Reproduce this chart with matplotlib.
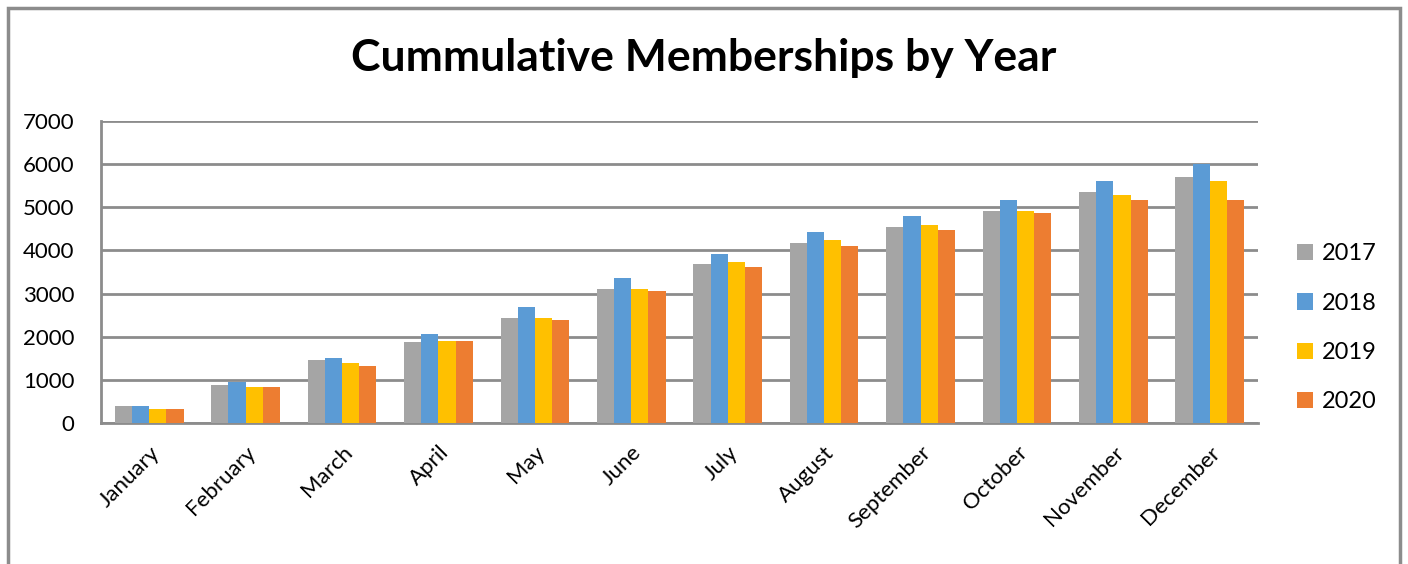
import matplotlib
matplotlib.use("Agg")
import matplotlib.pyplot as plt
import matplotlib.transforms as mtransforms
import numpy as np
from matplotlib.patches import Rectangle

months = ["January", "February", "March", "April", "May", "June", "July",
          "August", "September", "October", "November", "December"]
years = ["2017", "2018", "2019", "2020"]
v2017 = [400, 890, 1450, 1880, 2440, 3110, 3680, 4170, 4540, 4920, 5350, 5710]
v2018 = [400, 950, 1510, 2070, 2680, 3370, 3920, 4420, 4790, 5170, 5600, 6000]
v2019 = [330, 830, 1390, 1890, 2440, 3110, 3740, 4240, 4600, 4920, 5280, 5600]
v2020 = [330, 830, 1330, 1890, 2380, 3060, 3620, 4110, 4480, 4860, 5170, 5170]
colors = ["#a5a5a5", "#5b9bd5", "#ffc000", "#ed7d31"]
yticks = [0, 1000, 2000, 3000, 4000, 5000, 6000, 7000]

plt.rcParams['font.family'] = ['Lato', 'DejaVu Sans']

fig = plt.figure(figsize=(14.08, 5.64), dpi=100)
W, H = 1408, 564
ax = fig.add_axes([101 / W, 1 - 423 / H, (1258 - 101) / W, (423 - 121) / H])

# chart frame border
fig.patches.append(Rectangle((8 / W, -0.05), (1400 - 8) / W, 1 - 8 / H + 0.05,
                             transform=fig.transFigure, fill=False,
                             edgecolor="#8c8c8c", linewidth=2.5))

x = np.arange(len(months))
bw = 0.178
series = [v2017, v2018, v2019, v2020]
for i, (vals, c, lab) in enumerate(zip(series, colors, years)):
    ax.bar(x + (i - 1.5) * bw, vals, width=bw, color=c, label=lab, zorder=3)

ax.set_xlim(-0.5, len(months) - 0.5)
ax.set_ylim(0, 7000)
ax.set_yticks(yticks)
ax.set_yticklabels([str(t) for t in yticks], fontsize=16)
ax.set_xticks(x)
ax.set_xticklabels(months, rotation=45, ha="right", rotation_mode="anchor", fontsize=16)
offset = mtransforms.ScaledTranslation(10 / 100, -3 / 100, fig.dpi_scale_trans)
for lbl in ax.get_xticklabels():
    lbl.set_transform(lbl.get_transform() + offset)
ax.tick_params(axis="x", length=0, pad=14)
ax.tick_params(axis="y", length=0, pad=19)
ax.grid(axis="y", color="#8c8c8c", linewidth=2, zorder=0)
for s in ["top", "right"]:
    ax.spines[s].set_visible(False)
ax.spines["left"].set_color("#8c8c8c")
ax.spines["left"].set_linewidth(2)
ax.spines["bottom"].set_color("#8c8c8c")
ax.spines["bottom"].set_linewidth(2)

fig.text(704 / W, 1 - 58 / H, "Cummulative Memberships by Year", ha="center", va="center",
         fontsize=32, fontweight="bold")

ax.legend(loc="center left", bbox_to_anchor=(1.015, 0.315), frameon=False, fontsize=17,
          handlelength=0.7, handleheight=0.7, labelspacing=1.2, handletextpad=0.35)

fig.savefig("out.png", dpi=100)
